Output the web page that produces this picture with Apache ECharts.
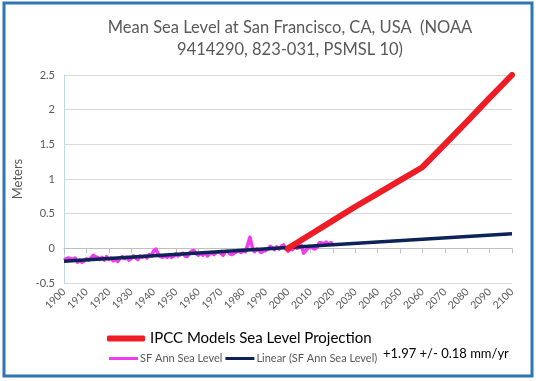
<!DOCTYPE html>
<html>
<head>
<meta charset="utf-8">
<script src="https://cdn.jsdelivr.net/npm/echarts@6/dist/echarts.min.js"></script>
<style>html,body{margin:0;padding:0;background:#fff;}#c{width:536px;height:381px;}</style>
</head>
<body>
<div id="c"></div>
<script>
// Observed annual mean sea level, San Francisco (m)
var years = [];
for (var yy = 1900; yy <= 2020; yy++) years.push(yy);
var seaLevel = [
 -0.17,-0.15,-0.14,-0.15,-0.16,-0.14,-0.20,-0.17,-0.20,-0.18,
 -0.15,-0.17,-0.14,-0.10,-0.12,-0.13,-0.16,-0.13,-0.17,-0.12,
 -0.16,-0.14,-0.18,-0.16,-0.19,-0.14,-0.12,-0.15,-0.13,-0.17,
 -0.15,-0.11,-0.14,-0.16,-0.11,-0.13,-0.11,-0.14,-0.09,-0.11,
 -0.04,-0.01,-0.08,-0.12,-0.13,-0.11,-0.13,-0.09,-0.13,-0.11,
 -0.08,-0.11,-0.09,-0.07,-0.11,-0.12,-0.07,-0.04,-0.03,-0.08,
 -0.10,-0.07,-0.10,-0.06,-0.11,-0.08,-0.06,-0.09,-0.06,-0.05,
 -0.07,-0.10,-0.05,-0.04,-0.08,-0.09,-0.07,-0.05,-0.03,-0.06,
 -0.03,-0.05,0.05,0.16,0.02,-0.05,-0.01,-0.03,-0.06,-0.04,
 -0.03,-0.01,0.03,0.01,-0.02,0.02,-0.01,0.03,0.05,-0.01,
 -0.04,-0.01,-0.02,0.02,0.00,0.01,0.04,-0.07,-0.03,0.00,
 0.03,0.00,-0.01,0.02,0.08,0.08,0.06,0.09,0.06,0.08,0.07
];
// Linear trend endpoints (+1.97 mm/yr)
var trendYears = [1900, 2100];
var trendValues = [-0.185, 0.209];
// IPCC projection
var projYears = [2000, 2010, 2020, 2030, 2040, 2050, 2060, 2070, 2080, 2090, 2100];
var projValues = [0.0, 0.20, 0.40, 0.60, 0.79, 0.98, 1.17, 1.50, 1.83, 2.17, 2.50];
var yTicks = [-0.5, 0, 0.5, 1, 1.5, 2, 2.5];

function pairs(xs, vs){ return xs.map(function(x,i){ return [x, vs[i]]; }); }

var FONT = 'Lato';
var chart = echarts.init(document.getElementById('c'), null, {renderer:'canvas'});
chart.setOption({
  animation: false,
  backgroundColor: '#fff',
  title: {
    text: 'Mean Sea Level at San Francisco, CA, USA  (NOAA\n9414290, 823-031, PSMSL 10)',
    left: 285, top: 12, textAlign: 'center',
    textStyle: {fontFamily: FONT, fontSize: 16.5, fontWeight: 'normal', color: '#595959', lineHeight: 22}
  },
  grid: {left: 64, right: 24, top: 75, bottom: 98, containLabel: false},
  xAxis: {
    type: 'value', min: 1900, max: 2100, interval: 10,
    axisLine: {show: true, lineStyle: {color: '#BFBFBF', width: 1}},
    axisTick: {show: true, length: 5, lineStyle: {color: '#BFBFBF'}},
    axisLabel: {rotate: 45, fontFamily: FONT, fontSize: 10.5, color: '#595959', margin: 7,
      formatter: function(v){ return String(v); }},
    splitLine: {show: false}
  },
  yAxis: {
    type: 'value', min: yTicks[0], max: yTicks[yTicks.length-1], interval: 0.5,
    name: 'Meters', nameLocation: 'middle', nameGap: 36,
    nameTextStyle: {fontFamily: FONT, fontSize: 13, color: '#595959'},
    axisLine: {show: true, lineStyle: {color: '#BDD7EE', width: 1}},
    axisTick: {show: false},
    axisLabel: {fontFamily: FONT, fontSize: 11, color: '#595959', margin: 9},
    splitLine: {show: true, lineStyle: {color: '#D9D9D9', width: 1}}
  },
  legend: [
    {
      data: ['IPCC Models Sea Level Projection'],
      left: 102, top: 326, icon: 'roundRect', itemWidth: 38, itemHeight: 6, itemGap: 8,
      textStyle: {fontFamily: FONT, fontSize: 15, color: '#000'}
    },
    {
      data: ['SF Ann Sea Level', 'Linear (SF Ann Sea Level)'],
      left: 104, top: 348, icon: 'rect', itemWidth: 29, itemHeight: 3, itemGap: 3,
      textStyle: {fontFamily: FONT, fontSize: 11, color: '#595959', padding: [0,0,0,-3]}
    }
  ],
  graphic: [
    {type: 'text', left: 383, top: 347,
     style: {text: '+1.97 +/- 0.18 mm/yr', font: '13px ' + FONT, fill: '#000'}},
    {type: 'rect', shape: {x: 4, y: 3, width: 528, height: 373},
     style: {fill: 'none', stroke: '#2E75B6', lineWidth: 3}, z: 100}
  ],
  series: [
    {name: 'SF Ann Sea Level', type: 'line', data: pairs(years, seaLevel), symbol: 'none',
     lineStyle: {color: '#F03CF0', width: 3.5, join: 'round'}, itemStyle: {color: '#F03CF0'}, z: 2},
    {name: 'Linear (SF Ann Sea Level)', type: 'line', data: pairs(trendYears, trendValues), symbol: 'none',
     lineStyle: {color: '#0D2357', width: 3.5}, itemStyle: {color: '#0D2357'}, z: 3},
    {name: 'IPCC Models Sea Level Projection', type: 'line', data: pairs(projYears, projValues), symbol: 'none',
     lineStyle: {color: '#EE1C25', width: 6, cap: 'round', join: 'round'}, itemStyle: {color: '#EE1C25'}, z: 4}
  ]
});
</script>
</body>
</html>
